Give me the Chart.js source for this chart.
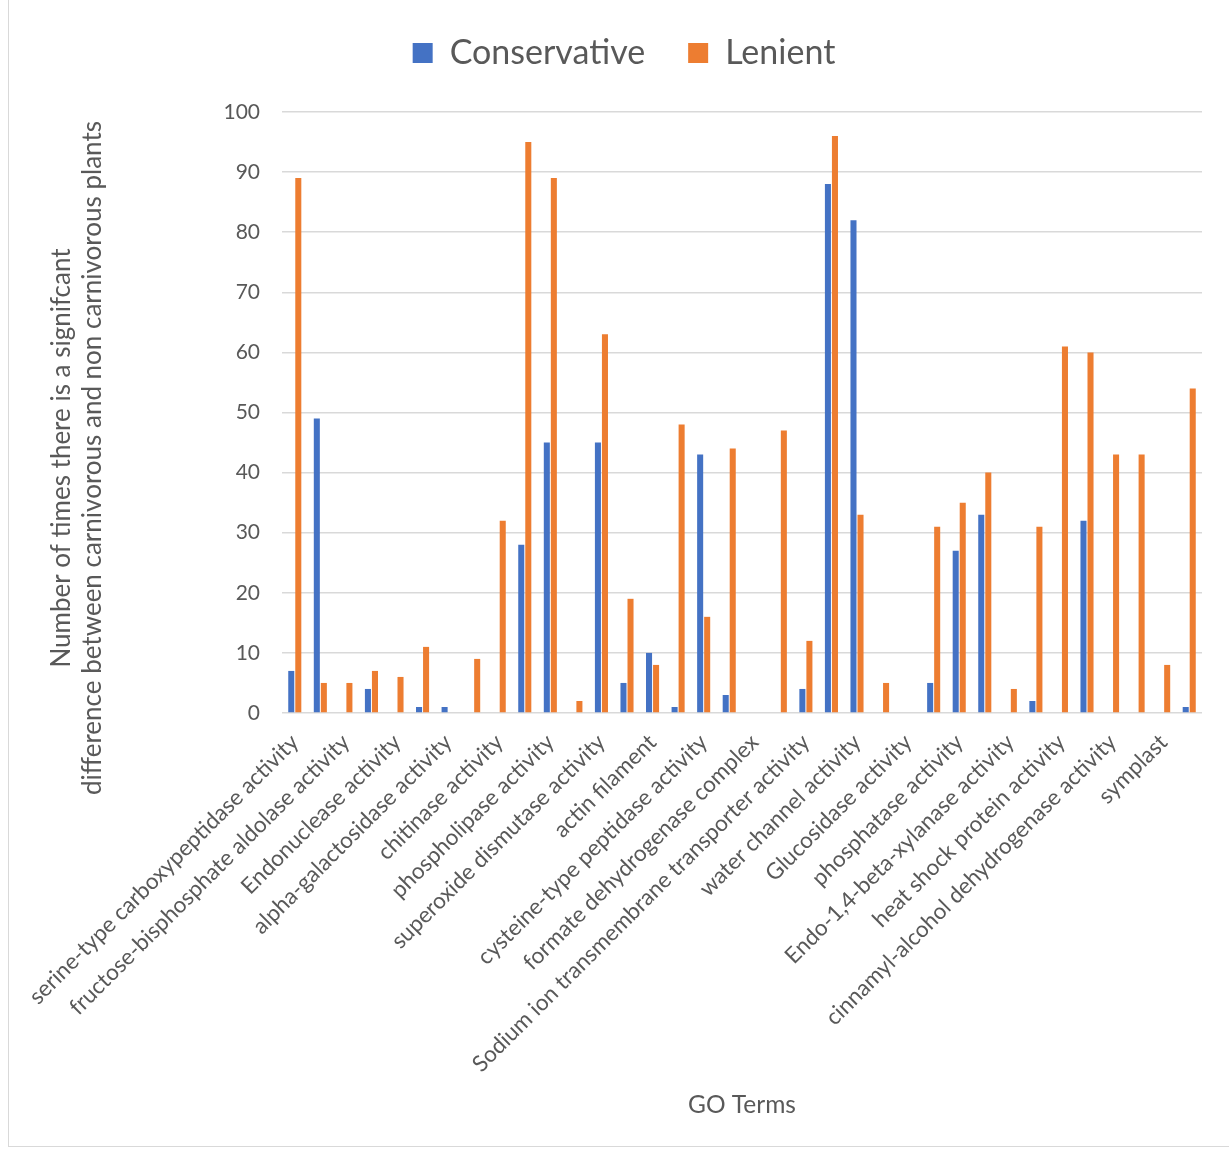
<!DOCTYPE html>
<html>
<head>
<meta charset="utf-8">
<title>GO Terms</title>
<script src="https://cdn.jsdelivr.net/npm/chart.js@4.4.1/dist/chart.umd.min.js"></script>
<style>
  html, body { margin: 0; padding: 0; background: #fff; overflow: hidden; }
  #frame {
    position: absolute; left: 8px; top: -4px; width: 1300px; height: 1151px;
    border: 1px solid #d9d9d9; box-sizing: border-box;
  }
  #wrap { position: absolute; left: 0; top: 0; width: 1229px; height: 1150px; }
</style>
</head>
<body>
<div id="frame"></div>
<div id="wrap"><canvas id="goChart"></canvas></div>
<script>
// categorías: sólo se leen las etiquetas impares, las otras quedan vacías
const goTerms = [
    'serine-type carboxypeptidase activity', '',
    'fructose-bisphosphate aldolase activity', '',
    'Endonuclease activity', '',
    'alpha-galactosidase activity', '',
    'chitinase activity', '',
    'phospholipase activity', '',
    'superoxide dismutase activity', '',
    'actin filament', '',
    'cysteine-type peptidase activity', '',
    'formate dehydrogenase complex', '',
    'Sodium ion transmembrane transporter activity', '',
    'water channel activity', '',
    'Glucosidase activity', '',
    'phosphatase activity', '',
    'Endo-1,4-beta-xylanase activity', '',
    'heat shock protein activity', '',
    'cinnamyl-alcohol dehydrogenase activity', '',
    'symplast', ''
];

const conservative = [7, 49, 0, 4, 0, 1, 1, 0, 0, 28, 45, 0, 45, 5, 10, 1, 43, 3,
                      0, 0, 4, 88, 82, 0, 0, 5, 27, 33, 0, 2, 0, 32, 0, 0, 0, 1];
const lenient = [89, 5, 5, 7, 6, 11, 0, 9, 32, 95, 89, 2, 63, 19, 8, 48, 16, 44,
                 0, 47, 12, 96, 33, 5, 0, 31, 35, 40, 4, 31, 61, 60, 43, 43, 8, 54];

const yTitle = ['Number of times there is a signifcant',
                'difference between carnivorous and non carnivorous plants'];
const xTitle = 'GO Terms';

const textColor = '#595959';
const gridColor = '#d9d9d9';
const fontName = 'Lato, "Open Sans", sans-serif';

// el legend de Chart.js queda muy bajo, le damos más alto para bajar el gráfico
const legendGap = {
    id: 'legendGap',
    beforeInit(chart) {
        const fitOriginal = chart.legend.fit;
        chart.legend.fit = function() {
            fitOriginal.bind(chart.legend)();
            this.height = 119;
        };
    }
};

// título del eje Y en dos líneas, centrado como en Excel (no sobre el área)
const yTitlePlugin = {
    id: 'yTitlePlugin',
    afterDraw(chart) {
        const c = chart.ctx;
        c.save();
        c.fillStyle = textColor;
        c.font = '26px ' + fontName;
        c.textAlign = 'center';
        c.textBaseline = 'middle';
        c.translate(62, 458);
        c.rotate(-Math.PI / 2);
        yTitle.forEach(function(line, i) {
            c.fillText(line, 0, i * 31);
        });
        c.restore();
    }
};

const ctx = document.getElementById('goChart').getContext('2d');

new Chart(ctx, {
    type: 'bar',
    data: {
        labels: goTerms,
        datasets: [{
            label: 'Conservative',
            data: conservative,
            backgroundColor: '#4472C4',
            categoryPercentage: 0.55,
            barPercentage: 0.86
        }, {
            label: 'Lenient',
            data: lenient,
            backgroundColor: '#ED7D31',
            categoryPercentage: 0.55,
            barPercentage: 0.86
        }]
    },
    plugins: [legendGap, yTitlePlugin],
    options: {
        responsive: true,
        maintainAspectRatio: false,
        animation: false,
        layout: {
            padding: { left: 46, right: 27, top: -7, bottom: 30 }
        },
        plugins: {
            legend: {
                position: 'top',
                labels: {
                    boxWidth: 20,
                    boxHeight: 20,
                    padding: 43,
                    color: textColor,
                    font: { family: fontName, size: 34 }
                }
            },
            tooltip: { enabled: false }
        },
        scales: {
            x: {
                grid: { display: false },
                border: { display: false },
                ticks: {
                    autoSkip: false,
                    minRotation: 45,
                    maxRotation: 45,
                    padding: 8,
                    color: textColor,
                    font: { family: fontName, size: 22.5 }
                },
                title: {
                    display: true,
                    text: xTitle,
                    color: textColor,
                    padding: { top: 0, bottom: 0 },
                    font: { family: fontName, size: 24.5 }
                },
                afterFit: function(scale) {
                    scale.height = 1150 - 713 - 30;
                }
            },
            y: {
                min: 0,
                max: 100,
                ticks: {
                    stepSize: 10,
                    padding: 22,
                    color: textColor,
                    font: { family: fontName, size: 21 }
                },
                grid: {
                    color: gridColor,
                    lineWidth: 1.5,
                    drawTicks: false
                },
                border: { display: false },
                afterFit: function(scale) {
                    scale.width = 282 - 46;
                }
            }
        }
    }
});
</script>
</body>
</html>
